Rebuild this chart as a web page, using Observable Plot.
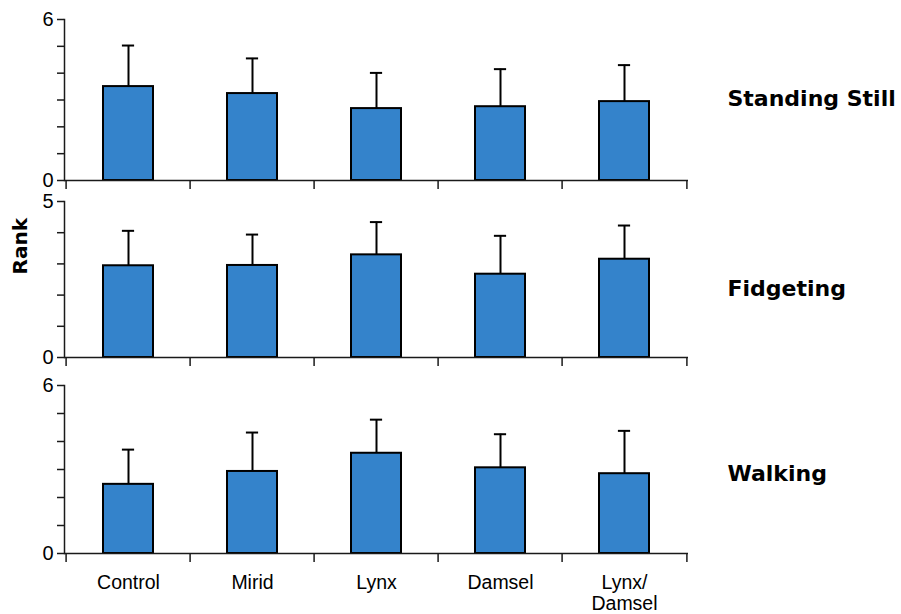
<!DOCTYPE html>
<html><head><meta charset="utf-8">
<script src="https://cdn.jsdelivr.net/npm/d3@7"></script>
<script src="https://cdn.jsdelivr.net/npm/@observablehq/plot@0.6"></script>
<style>
body{margin:0;background:#fff;}
#chart{position:relative;width:901px;height:614px;}
#chart svg{display:block;position:absolute;left:0;overflow:visible;}
</style></head><body><div id="chart"></div>
<script>
const categories = ["Control","Mirid","Lynx","Damsel","Lynx/\nDamsel"];
const panelNames = ["Standing Still","Fidgeting","Walking"];
const yAxisLabel = "Rank";
const standingMean = [3.50, 3.24, 2.68, 2.75, 2.94];
const standingErr  = [1.53, 1.31, 1.33, 1.40, 1.36];
const fidgetMean   = [2.94, 2.95, 3.29, 2.67, 3.15];
const fidgetErr    = [1.12, 0.99, 1.05, 1.23, 1.08];
const walkMean     = [2.47, 2.93, 3.58, 3.06, 2.85];
const walkErr      = [1.24, 1.39, 1.20, 1.20, 1.53];
const yMaxes = [6, 5, 6];
const yTickLabels = [[0, 6], [0, 5], [0, 6]];

const means = [standingMean, fidgetMean, walkMean];
const errs = [standingErr, fidgetErr, walkErr];
const layout = [
  {top: 0,   height: 200, marginTop: 19, marginBottom: 20, nameDy: -1},
  {top: 180, height: 197, marginTop: 21, marginBottom: 20, nameDy: 9},
  {top: 357, height: 256, marginTop: 28, marginBottom: 60, nameDy: 4}
];
const W = 901, ML = 64, MR = 213;
const bw = (W - ML - MR) / categories.length;
const font = "'Liberation Sans', Arial, Helvetica, sans-serif";
const boldFont = "'DejaVu Sans', 'Liberation Sans', Arial, sans-serif";
const ink = "#1a1a1a";

panelNames.forEach((name, p) => {
  const rows = categories.map((c, i) => ({cat: c, mean: means[p][i], err: errs[p][i]}));
  const L = layout[p];
  const marks = [
    Plot.barY(rows, {x: "cat", y: "mean", fill: "#3483cb", stroke: "#000", strokeWidth: 2, insetLeft: 37, insetRight: 37}),
    Plot.ruleX(rows, {x: "cat", y1: "mean", y2: d => d.mean + d.err, stroke: "#000", strokeWidth: 2}),
    Plot.tickY(rows, {x: "cat", y: d => d.mean + d.err, stroke: "#000", strokeWidth: 2, insetLeft: (bw - 13) / 2, insetRight: (bw - 13) / 2}),
    Plot.frame({anchor: "left", stroke: ink, strokeWidth: 1.5}),
    Plot.ruleY([0], {stroke: ink, strokeWidth: 1.5}),
    Plot.ruleX(categories, {x: d => d, dx: -bw / 2, y1: 0, y2: 0, insetBottom: -9, stroke: ink, strokeWidth: 1.5}),
    Plot.ruleX(categories.slice(-1), {x: d => d, dx: bw / 2, y1: 0, y2: 0, insetBottom: -9, stroke: ink, strokeWidth: 1.5}),
    Plot.axisY({ticks: d3.range(0, yMaxes[p] + 1), tickSize: 7, tickPadding: 4, stroke: ink, strokeWidth: 1.5,
      tickFormat: d => yTickLabels[p].includes(d) ? String(d) : "", fontSize: 20, label: null}),
    Plot.text([name], {text: d => d, frameAnchor: "right", textAnchor: "start", dx: 727 - (W - MR), dy: L.nameDy,
      fontSize: 22, fontWeight: "bold", fontFamily: boldFont, fill: "#000"})
  ];
  if (p === 1) {
    marks.push(Plot.text([yAxisLabel], {text: d => d, frameAnchor: "left", rotate: -90, dx: -44, dy: -5,
      fontSize: 20, fontWeight: "bold", fontFamily: boldFont, fill: "#000"}));
  }
  if (p === 2) {
    marks.push(Plot.axisX({tickSize: 0, tickPadding: 21, fontSize: 19.5, lineHeight: 1.05, label: null}));
  }
  const chart = Plot.plot({
    width: W, height: L.height,
    marginLeft: ML, marginRight: MR, marginTop: L.marginTop, marginBottom: L.marginBottom,
    style: {fontFamily: font, fontSize: "19.5px", color: "#000", background: "transparent"},
    x: {type: "band", domain: categories, padding: 0, axis: null},
    y: {domain: [0, yMaxes[p]], axis: null},
    marks
  });
  chart.style.top = L.top + "px";
  document.getElementById("chart").appendChild(chart);
});
</script>
</body></html>
